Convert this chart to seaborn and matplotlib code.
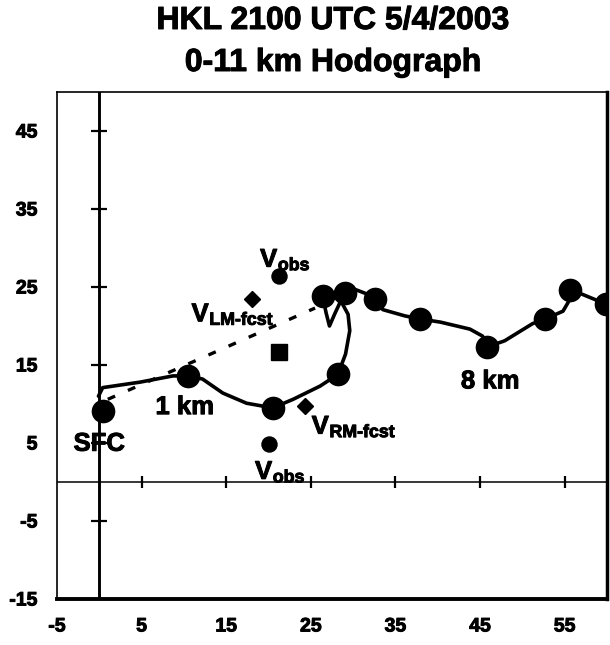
import matplotlib
matplotlib.use("Agg")
import matplotlib.pyplot as plt
import matplotlib.patheffects as pe
import seaborn as sns

# hodograph dots (SFC, 1 km ... 11 km), u / v components
dot_u = [0.4, 10.5, 20.5, 28.2, 26.4, 29.0, 32.6, 37.9, 45.8, 52.7, 55.6, 59.9]
dot_v = [9.1, 13.6, 9.5, 13.8, 23.8, 24.2, 23.5, 20.9, 17.3, 20.9, 24.6, 22.8]

# traced hodograph curve
curve_u = [-0.1, 0.4, 4.8, 8.7, 10.5, 12.2, 14.6, 17.4, 20.5, 22.9, 26.1, 28.2,
           29.1, 29.6, 29.4, 28.7, 27.8, 26.4, 26.8, 27.2, 27.8, 28.4, 29.0,
           30.2, 31.4, 32.6, 33.5, 36.1, 37.9, 40.3, 43.8, 45.3, 45.8, 47.9,
           51.2, 52.7, 54.8, 55.5, 55.6, 57.0, 59.9]
curve_v = [11.0, 12.1, 12.8, 13.6, 13.6, 13.2, 11.4, 10.1, 9.5, 10.6, 12.3, 13.8,
           16.4, 19.4, 21.5, 22.9, 23.7, 23.8, 21.7, 20.0, 21.5, 22.9, 24.2,
           24.7, 24.2, 23.5, 22.1, 21.3, 20.9, 20.5, 19.6, 18.7, 17.3, 18.1,
           20.3, 20.9, 21.9, 23.2, 24.6, 24.1, 22.8]

# dashed shear line
shear_u = [1.0, 25.5]
shear_v = [10.6, 22.3]

# storm motions
obs_u = [21.2, 20.0]
obs_v = [26.4, 4.9]
lm_u, lm_v = 18.0, 23.5
rm_u, rm_v = 24.3, 9.7
sq_u, sq_v = 21.2, 16.7

xticks = [-5, 5, 15, 25, 35, 45, 55]
yticks = [-15, -5, 5, 15, 25, 35, 45]
inner_xticks = [5, 15, 25, 35, 45, 55]
inner_yticks = [-5, 5, 15, 25, 35, 45]

sns.set_theme(style="white")
plt.rcParams["font.family"] = ["Liberation Sans", "DejaVu Sans"]
plt.rcParams["font.weight"] = "bold"
plt.rcParams["axes.unicode_minus"] = False
for k in ["text.color", "xtick.color", "ytick.color", "axes.labelcolor"]:
    plt.rcParams[k] = "black"

heavy = [pe.withStroke(linewidth=0.7, foreground="black")]

fig = plt.figure(figsize=(6.1, 6.45), dpi=100)
ax = fig.add_axes([57 / 610, 1 - 599 / 645, 550 / 610, 507 / 645])
ax.set_xlim(-5, 60)
ax.set_ylim(-15, 50)

# axis lines through origin with their tick marks
ax.axvline(0, color="black", lw=2.1, zorder=1)
ax.axhline(0, color="black", lw=1.1, zorder=1)
ax.plot([0] * len(inner_yticks), inner_yticks, ls="none", marker="_",
        ms=11, mew=1.6, color="black", zorder=1)
ax.plot(inner_xticks, [0] * len(inner_xticks), ls="none", marker="|",
        ms=9, mew=1.6, color="black", zorder=1)

ax.plot(shear_u, shear_v, color="black", lw=2.4, ls=(0, (2.4, 4.2)), zorder=2)
sns.lineplot(x=curve_u, y=curve_v, sort=False, estimator=None, color="black",
             lw=2.6, ax=ax, zorder=3)
sns.scatterplot(x=dot_u, y=dot_v, color="black", s=290, linewidth=0, ax=ax, zorder=4)
sns.scatterplot(x=obs_u, y=obs_v, color="black", s=140, linewidth=0, ax=ax, zorder=4)
ax.plot([lm_u, rm_u], [lm_v, rm_v], ls="none", marker="D", ms=8.5, color="black", zorder=4)
ax.plot([sq_u], [sq_v], ls="none", marker="s", ms=12, color="black", zorder=4)

# labels
lab = dict(color="black", fontweight="bold", path_effects=heavy)
ax.text(0, 4.9, "SFC", fontsize=18.5, ha="center", va="center", **lab)
ax.text(10.1, 9.6, "1 km", fontsize=18.5, ha="center", va="center", **lab)
ax.text(46.2, 12.9, "8 km", fontsize=18.5, ha="center", va="center", **lab)


def vlabel(x, y, sub):
    ax.text(x, y, "V", fontsize=18.5, ha="left", va="baseline", **lab)
    ax.annotate(sub, (x, y), xytext=(12.8, -2.5), textcoords="offset points",
                fontsize=12.8, ha="left", va="baseline", **lab)


vlabel(19.0, 27.6, "obs")
vlabel(10.9, 20.6, "LM-fcst")
vlabel(25.1, 6.2, "RM-fcst")
vlabel(18.4, 0.4, "obs")

ax.set_xticks(xticks)
ax.set_yticks(yticks)
ax.tick_params(length=0, labelsize=14, labelcolor="black")
ax.tick_params(axis="y", pad=14)
ax.tick_params(axis="x", pad=14)
for t in ax.get_xticklabels() + ax.get_yticklabels():
    t.set_fontweight("bold")
    t.set_path_effects(heavy)

for side, lw in [("left", 1.2), ("top", 1.2), ("right", 2.5), ("bottom", 2.8)]:
    ax.spines[side].set_visible(True)
    ax.spines[side].set_color("black")
    ax.spines[side].set_linewidth(lw)

fig.text(0.546, 1 - 21 / 645, "HKL 2100 UTC 5/4/2003", fontsize=23,
         fontweight="bold", ha="center", va="center", path_effects=heavy)
fig.text(0.546, 1 - 63 / 645, "0-11 km Hodograph", fontsize=23,
         fontweight="bold", ha="center", va="center", path_effects=heavy)

fig.savefig("out.png", dpi=100)
